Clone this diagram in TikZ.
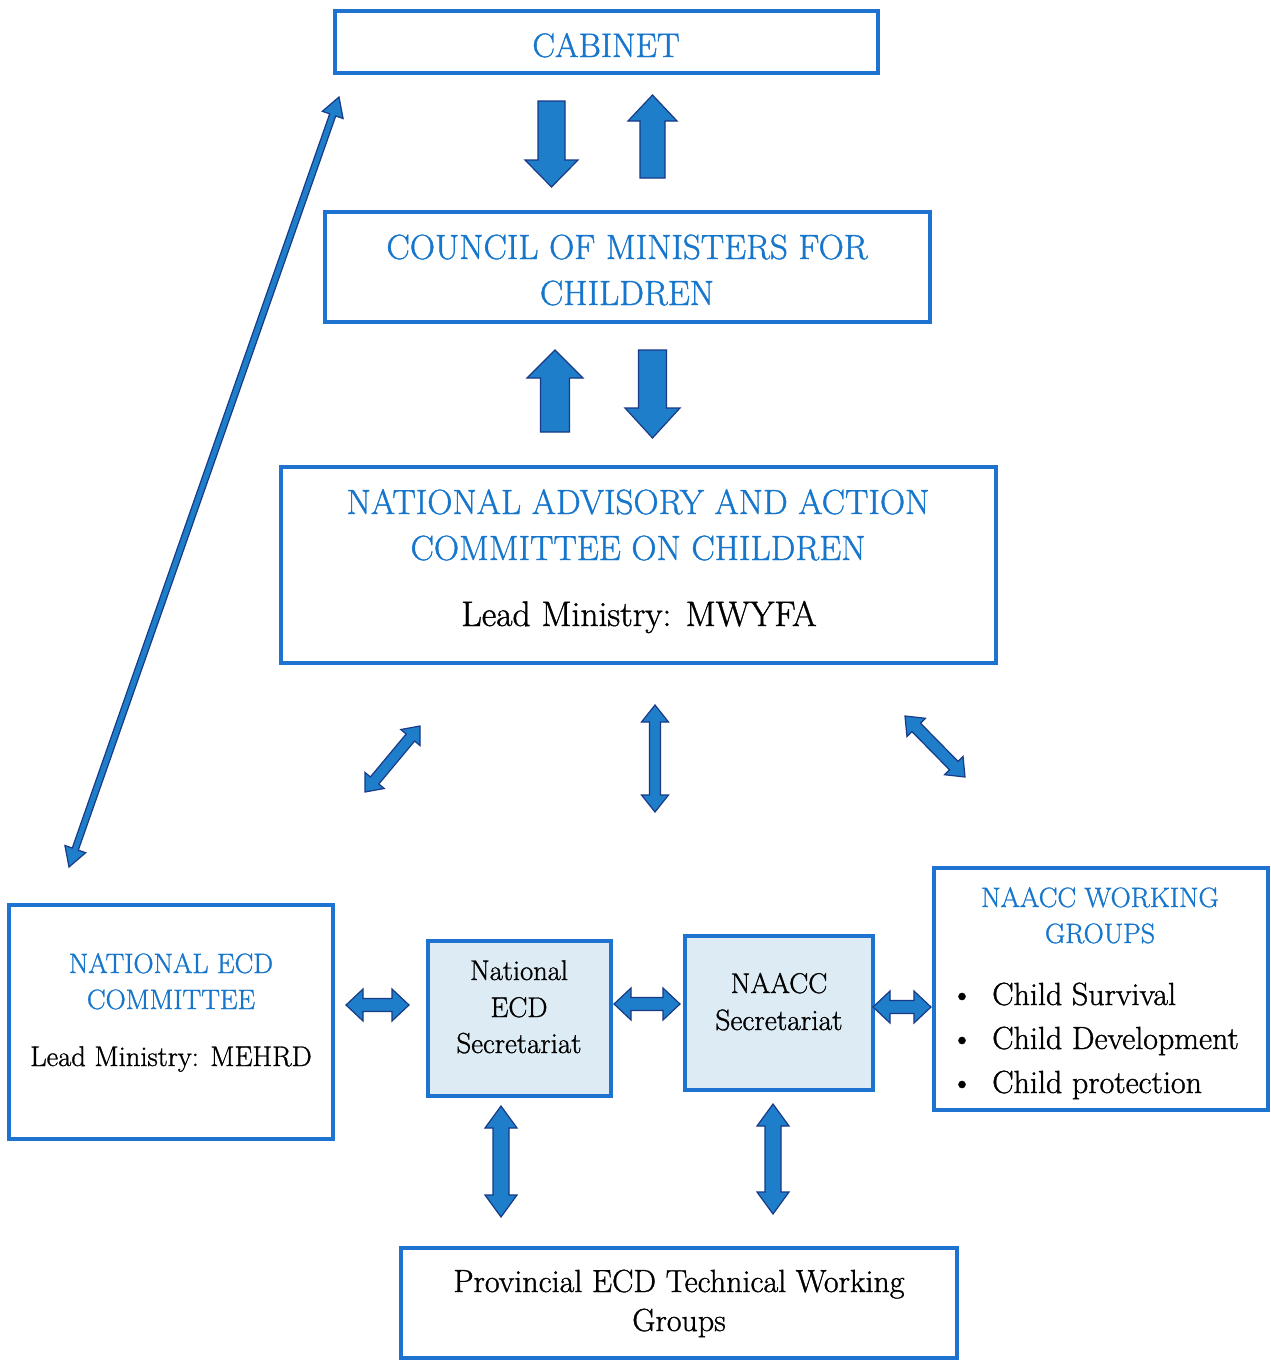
\documentclass[tikz,border=0pt]{standalone}
\usepackage{fontspec}
\setmainfont{Latin Modern Roman}[FakeBold=1.1]
\usetikzlibrary{calc}
\definecolor{tblue}{RGB}{22,118,204}
\definecolor{bblue}{RGB}{30,114,208}
\definecolor{afill}{RGB}{30,126,202}
\definecolor{aedge}{RGB}{24,58,135}
\definecolor{secfill}{RGB}{221,236,244}
\newcommand\blockarrow[5]{%
  \coordinate (ba-s) at (#1);
  \coordinate (ba-t) at (#2);
  \coordinate (ba-h) at ($(ba-t)!#5!(ba-s)$);
  \filldraw[arrowsty] ($(ba-s)!#3!90:(ba-t)$) -- ($(ba-h)!#3!-90:(ba-s)$) -- ($(ba-h)!#4!-90:(ba-s)$) -- (ba-t) -- ($(ba-h)!#4!90:(ba-s)$) -- ($(ba-h)!#3!90:(ba-s)$) -- ($(ba-s)!#3!-90:(ba-t)$) -- cycle;}
\newcommand\dblarrow[5]{%
  \coordinate (da-s) at (#1);
  \coordinate (da-t) at (#2);
  \coordinate (da-hs) at ($(da-s)!#5!(da-t)$);
  \coordinate (da-ht) at ($(da-t)!#5!(da-s)$);
  \filldraw[arrowsty] (da-s) -- ($(da-hs)!#4!90:(da-t)$) -- ($(da-hs)!#3!90:(da-t)$) -- ($(da-ht)!#3!-90:(da-s)$) -- ($(da-ht)!#4!-90:(da-s)$) -- (da-t) -- ($(da-ht)!#4!90:(da-s)$) -- ($(da-ht)!#3!90:(da-s)$) -- ($(da-hs)!#3!-90:(da-t)$) -- ($(da-hs)!#4!-90:(da-t)$) -- cycle;}
\begin{document}
\begin{tikzpicture}[x=1pt,y=-1pt,
  box/.style={draw=bblue, line width=4pt, rectangle, inner sep=0pt},
  secbox/.style={box, fill=secfill},
  arrowsty/.style={fill=afill, draw=aedge, line width=1.2pt, line join=miter},
  hdA/.style={text=tblue, font=\fontsize{35}{40}\selectfont, inner sep=0pt},
  hdB/.style={text=tblue, font=\fontsize{28}{33}\selectfont, inner sep=0pt},
  txA/.style={text=black, font=\fontsize{35.5}{40}\selectfont, inner sep=0pt},
  txB/.style={text=black, font=\fontsize{28.5}{33}\selectfont, inner sep=0pt},
  txC/.style={text=black, font=\fontsize{32}{37}\selectfont, inner sep=0pt},
  txD/.style={text=black, font=\fontsize{32}{37}\selectfont, inner sep=0pt}]
\fill[white] (0,0) rectangle (1271,1361);
\useasboundingbox (0,0) rectangle (1271,1361);

% boxes
\node[box, minimum width=543pt, minimum height=62pt] (cabinet) at (606.5,42) {};
\node[box, minimum width=605pt, minimum height=110pt] (council) at (627.5,267) {};
\node[box, minimum width=715pt, minimum height=196pt] (naacc) at (638.5,565) {};
\node[box, minimum width=324pt, minimum height=234pt] (ecdcom) at (171,1022) {};
\node[secbox, minimum width=183pt, minimum height=155pt] (ecdsec) at (519.5,1018.5) {};
\node[secbox, minimum width=188pt, minimum height=154pt] (naaccsec) at (779,1013) {};
\node[box, minimum width=334pt, minimum height=242pt] (wg) at (1101,989) {};
\node[box, minimum width=556pt, minimum height=110pt] (prov) at (679,1303) {};

% texts
\node[hdA, anchor=base, font=\fontsize{34}{40}\selectfont] (t-cab) at (606,57) {CABINET};
\node[hdA, anchor=base] (t-cou1) at (627,259) {COUNCIL OF MINISTERS FOR};
\node[hdA, anchor=base] (t-cou2) at (627,305) {CHILDREN};
\node[hdA, anchor=base] (t-na1) at (638,514) {NATIONAL ADVISORY AND ACTION};
\node[hdA, anchor=base] (t-na2) at (638,560) {COMMITTEE ON CHILDREN};
\node[txA, anchor=base] (t-na3) at (639,626) {Lead Ministry: MWYFA};

\node[hdB, anchor=base] (t-ec1) at (171,973) {NATIONAL ECD};
\node[hdB, anchor=base] (t-ec2) at (171,1009) {COMMITTEE};
\node[txB, anchor=base] (t-ec3) at (171,1066) {Lead Ministry: MEHRD};

\node[txB, anchor=base] (t-es1) at (519,980) {National};
\node[txB, anchor=base] (t-es2) at (519,1017) {ECD};
\node[txB, anchor=base, font=\fontsize{29}{33}\selectfont] (t-es3) at (519,1053) {Secretariat};

\node[txB, anchor=base] (t-ns1) at (779,993) {NAACC};
\node[txB, anchor=base, font=\fontsize{29.5}{33}\selectfont] (t-ns2) at (779,1030) {Secretariat};

\node[hdB, anchor=base] (t-wg1) at (1100,907) {NAACC WORKING};
\node[hdB, anchor=base] (t-wg2) at (1100,943) {GROUPS};
\node[txC, anchor=base] (b1) at (962,1005) {\textbullet};
\node[txC, anchor=base west] (t-wg3) at (992,1005) {Child Survival};
\node[txC, anchor=base] (b2) at (962,1049) {\textbullet};
\node[txC, anchor=base west] (t-wg4) at (992,1049) {Child Development};
\node[txC, anchor=base] (b3) at (962,1093) {\textbullet};
\node[txC, anchor=base west] (t-wg5) at (992,1093) {Child protection};

\node[txD, anchor=base] (t-pr1) at (679,1292) {Provincial ECD Technical Working};
\node[txD, anchor=base] (t-pr2) at (679,1331) {Groups};

% arrow end points
\coordinate (a1s) at (551.5,101); \coordinate (a1t) at (551.5,187);
\coordinate (a2s) at (652.5,178); \coordinate (a2t) at (652.5,95);
\coordinate (a3s) at (555,432);   \coordinate (a3t) at (555,350);
\coordinate (a4s) at (652.5,350); \coordinate (a4t) at (652.5,438);
\coordinate (d1s) at (365,792);   \coordinate (d1t) at (420,726);
\coordinate (d2s) at (655,705);   \coordinate (d2t) at (655,812);
\coordinate (d3s) at (905,716);   \coordinate (d3t) at (965,777);
\coordinate (h1s) at (346,1005);  \coordinate (h1t) at (409,1005);
\coordinate (h2s) at (614,1004);  \coordinate (h2t) at (680,1004);
\coordinate (h3s) at (873,1007);  \coordinate (h3t) at (931,1007);
\coordinate (v1s) at (501,1106);  \coordinate (v1t) at (501,1217);
\coordinate (v2s) at (773,1104);  \coordinate (v2t) at (773,1214);
\coordinate (ls) at (69,867);     \coordinate (lt) at (339,97);

\blockarrow{a1s}{a1t}{13.5pt}{26.5pt}{27pt}
\blockarrow{a2s}{a2t}{12.5pt}{24.5pt}{26pt}
\blockarrow{a3s}{a3t}{14.5pt}{28pt}{28pt}
\blockarrow{a4s}{a4t}{14pt}{27.5pt}{30pt}

\dblarrow{d1s}{d1t}{5.5pt}{12.5pt}{15pt}
\dblarrow{d2s}{d2t}{5.5pt}{13.5pt}{17pt}
\dblarrow{d3s}{d3t}{6pt}{13pt}{16pt}
\dblarrow{h1s}{h1t}{6.5pt}{16pt}{17pt}
\dblarrow{h2s}{h2t}{6.5pt}{16pt}{17pt}
\dblarrow{h3s}{h3t}{6.5pt}{16pt}{17pt}
\dblarrow{v1s}{v1t}{8pt}{16pt}{22pt}
\dblarrow{v2s}{v2t}{8pt}{16pt}{22pt}
\dblarrow{ls}{lt}{3.2pt}{11pt}{19pt}
\end{tikzpicture}
\end{document}
